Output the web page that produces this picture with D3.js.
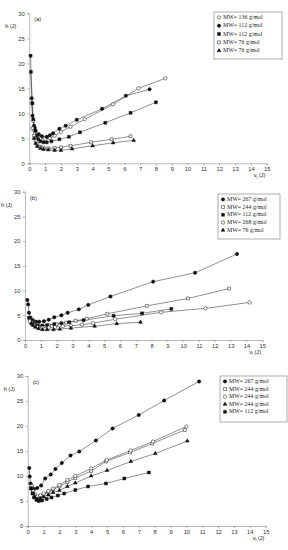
<!DOCTYPE html>
<html lang="en">
<head>
<meta charset="UTF-8">
<title>h vs vl</title>
<script src="https://d3js.org/d3.v7.min.js"></script>
<style>
    body { margin: 0; padding: 0; background: #fff; }
    svg { display: block; }
    .tick text { font-family: "Liberation Sans", Arial, sans-serif; font-size: 5.8px; fill: #333; }
    .legend text { font-family: "Liberation Serif", "Times New Roman", serif; font-size: 5.9px; fill: #222; }
    .lab { font-family: "Liberation Sans", Arial, sans-serif; font-size: 5.6px; fill: #222; }
</style>
</head>
<body>
<svg id="chart" width="288" height="550"></svg>
<script>
// ---------- data ----------
const xTicks = d3.range(0, 16, 1);
const yTicks = [0, 5, 10, 15, 20, 25, 30];

// panel (a)
const aOpenCircleX = [0.15, 0.25, 0.35, 0.5, 0.7, 1.0, 1.3, 1.6, 2.0, 2.6, 3.5, 5.3, 6.9, 8.6];
const aOpenCircleY = [12, 8.5, 6.5, 5.5, 5.0, 4.8, 5.0, 5.5, 6.3, 7.3, 8.8, 11.8, 15.0, 17.0];
const aFillCircleX = [0.08, 0.15, 0.2, 0.3, 0.4, 0.6, 0.8, 1.1, 1.3, 1.5, 1.9, 2.3, 3.0, 4.6, 6.1, 7.6];
const aFillCircleY = [21.5, 13, 9.5, 7.5, 6.5, 5.8, 5.4, 5.3, 5.6, 6.0, 6.9, 7.5, 8.7, 10.9, 13.5, 14.8];
const aFillSquareX = [0.1, 0.2, 0.25, 0.35, 0.45, 0.55, 0.7, 0.9, 1.1, 1.4, 1.9, 2.5, 3.2, 4.8, 6.4, 8.0];
const aFillSquareY = [18.3, 12, 8.8, 7.0, 5.5, 4.8, 4.4, 4.2, 4.2, 4.4, 4.8, 5.3, 6.2, 8.1, 10.1, 12.2];
const aOpenSquareX = [0.2, 0.3, 0.4, 0.5, 0.7, 0.9, 1.2, 1.6, 2.0, 2.6, 3.9, 5.2, 6.4];
const aOpenSquareY = [7.0, 5.5, 4.5, 3.8, 3.3, 3.1, 3.0, 3.1, 3.2, 3.5, 4.2, 4.8, 5.4];
const aTriangleX = [0.3, 0.4, 0.5, 0.7, 0.9, 1.2, 1.6, 2.0, 2.7, 4.0, 5.3, 6.6];
const aTriangleY = [5.0, 4.0, 3.4, 3.0, 2.8, 2.7, 2.6, 2.6, 2.9, 3.5, 4.1, 4.6];

// panel (b)
const bFillCircleX = [0.15, 0.2, 0.25, 0.35, 0.5, 0.7, 0.9, 1.2, 1.5, 1.85, 2.3, 2.7, 3.4, 4.0, 5.4, 8.1, 10.75, 13.4];
const bFillCircleY = [8.1, 7.2, 5.5, 4.5, 4.0, 3.7, 3.7, 3.8, 4.1, 4.6, 5.0, 5.5, 6.2, 7.1, 8.8, 11.8, 13.6, 17.4];
const bOpenSquareX = [0.3, 0.45, 0.6, 0.8, 1.1, 1.5, 2.0, 2.6, 3.2, 3.9, 5.2, 7.7, 10.3, 12.9];
const bOpenSquareY = [4.2, 3.6, 3.2, 3.0, 2.9, 3.0, 3.2, 3.5, 3.9, 4.3, 5.3, 6.9, 8.4, 10.4];
const bFillSquareX = [0.25, 0.35, 0.45, 0.6, 0.8, 1.1, 1.4, 1.85, 2.3, 2.8, 3.7, 5.6, 7.4, 9.25];
const bFillSquareY = [4.5, 3.8, 3.4, 3.0, 2.9, 2.9, 3.0, 3.2, 3.4, 3.6, 4.0, 4.9, 5.4, 6.3];
const bOpenCircleX = [0.3, 0.45, 0.6, 0.8, 1.1, 1.5, 1.9, 2.4, 2.9, 3.6, 4.3, 5.7, 8.6, 11.4, 14.2];
const bOpenCircleY = [3.8, 3.2, 2.9, 2.6, 2.5, 2.5, 2.6, 2.8, 2.9, 3.1, 3.4, 4.2, 5.6, 6.4, 7.6];
const bTriangleX = [0.4, 0.5, 0.65, 0.85, 1.1, 1.4, 1.8, 2.2, 2.9, 4.4, 5.8, 7.3];
const bTriangleY = [3.3, 3.0, 2.6, 2.3, 2.1, 2.1, 2.1, 2.2, 2.4, 2.8, 3.3, 3.6];

// panel (c)
const cFillCircleX = [0.1, 0.13, 0.18, 0.25, 0.4, 0.6, 0.85, 1.1, 1.45, 1.75, 2.15, 2.7, 3.25, 4.3, 5.35, 7.0, 8.6, 10.8];
const cFillCircleY = [11.6, 9.9, 8.5, 7.9, 7.4, 7.6, 8.1, 9.5, 10.3, 11.4, 12.6, 14.1, 14.9, 17.1, 19.5, 22.2, 25.1, 28.9];
const cOpenSquareX = [0.25, 0.35, 0.45, 0.6, 0.8, 1.0, 1.3, 1.6, 2.0, 2.5, 3.0, 4.0, 4.93, 6.45, 7.85, 9.9];
const cOpenSquareY = [7.5, 6.7, 6.0, 5.7, 6.0, 6.3, 6.8, 7.3, 7.9, 8.8, 9.6, 11.0, 12.9, 14.7, 16.5, 19.2];
const cOpenCircleX = [0.25, 0.35, 0.45, 0.6, 0.8, 1.0, 1.3, 1.6, 2.0, 2.5, 3.0, 4.0, 4.98, 6.49, 7.9, 10.0];
const cOpenCircleY = [8.0, 7.0, 6.3, 5.9, 6.1, 6.5, 7.0, 7.5, 8.2, 9.2, 10.0, 11.5, 13.2, 15.1, 16.9, 19.9];
const cTriangleX = [0.25, 0.35, 0.45, 0.6, 0.8, 1.0, 1.3, 1.6, 2.0, 2.5, 3.0, 4.0, 5.0, 6.5, 8.04, 10.06];
const cTriangleY = [7.5, 6.5, 5.8, 5.4, 5.5, 5.8, 6.2, 6.7, 7.1, 7.9, 8.6, 10.0, 11.1, 12.9, 14.5, 17.0];
const cFillSquareX = [0.2, 0.3, 0.4, 0.55, 0.7, 0.9, 1.2, 1.5, 1.9, 2.3, 3.0, 3.8, 4.93, 6.09, 7.64];
const cFillSquareY = [7.5, 6.5, 5.7, 5.2, 5.0, 5.1, 5.4, 5.7, 6.1, 6.5, 7.2, 7.9, 8.5, 9.5, 10.7];

const legendA = ["MW= 136 g/mol", "MW= 112 g/mol", "MW= 112 g/mol", "MW= 76 g/mol", "MW= 76 g/mol"];
const legendB = ["MW= 267 g/mol", "MW= 244 g/mol", "MW= 112 g/mol", "MW= 268 g/mol", "MW= 76 g/mol"];
const legendC = ["MW= 267 g/mol", "MW= 244 g/mol", "MW= 244 g/mol", "MW= 244 g/mol", "MW= 112 g/mol"];

// ---------- drawing ----------
const svg = d3.select("#chart");

function zipXY(xs, ys) {
    return xs.map((x, i) => [x, ys[i]]);
}

function marker(g, kind, x, y) {
    const filled = kind.startsWith("fill");
    let type = d3.symbolCircle, size = 9;
    if (kind.endsWith("Square")) { type = d3.symbolSquare; size = 8.5; }
    if (kind === "triangle") { type = d3.symbolTriangle; size = 6; }
    g.append("path")
        .attr("d", d3.symbol().type(type).size(size)())
        .attr("transform", `translate(${x},${y})`)
        .attr("fill", (filled || kind === "triangle") ? "#111" : "#fff")
        .attr("stroke", "#111")
        .attr("stroke-width", 0.5);
}

function drawPanel(p) {
    const x = d3.scaleLinear().domain([0, 15]).range([p.left, p.right]);
    const y = d3.scaleLinear().domain([0, 30]).range([p.bottom, p.top]);
    const g = svg.append("g");

    // axes
    g.append("g")
        .attr("transform", `translate(0,${p.bottom})`)
        .call(d3.axisBottom(x).tickValues(xTicks).tickSize(2).tickPadding(2).tickFormat(d3.format("d")))
        .call(a => a.select(".domain").attr("stroke", "#888").attr("stroke-width", 0.6))
        .call(a => a.selectAll(".tick line").attr("stroke", "#888").attr("stroke-width", 0.6));
    g.append("g")
        .attr("transform", `translate(${p.left},0)`)
        .call(d3.axisLeft(y).tickValues(yTicks).tickSize(2).tickPadding(2.5))
        .call(a => a.select(".domain").attr("stroke", "#888").attr("stroke-width", 0.6))
        .call(a => a.selectAll(".tick line").attr("stroke", "#888").attr("stroke-width", 0.6));

    // labels
    g.append("text").attr("class", "lab").attr("x", p.left - 24).attr("y", p.top + 15).text("h (J)");
    const xl = g.append("text").attr("class", "lab").attr("x", p.right - 13).attr("y", p.bottom + 14);
    xl.append("tspan").text("v");
    xl.append("tspan").attr("font-size", "3.8px").attr("dy", 1.2).text("l");
    xl.append("tspan").attr("dy", -1.2).text(" (J)");
    g.append("text").attr("class", "lab").attr("x", p.left + 5).attr("y", p.top + 8).text(p.tag);

    const line = d3.line().x(d => x(d[0])).y(d => y(d[1]));
    p.series.forEach(s => {
        const pts = zipXY(s.xs, s.ys);
        g.append("path").datum(pts)
            .attr("d", line)
            .attr("fill", "none")
            .attr("stroke", "#333")
            .attr("stroke-width", 0.55);
    });
    p.series.forEach(s => {
        zipXY(s.xs, s.ys).forEach(d => marker(g, s.kind, x(d[0]), y(d[1])));
    });

    // legend
    const lg = g.append("g").attr("class", "legend");
    lg.append("rect")
        .attr("x", p.lx).attr("y", p.ly).attr("width", p.lw).attr("height", p.lh)
        .attr("fill", "#fff").attr("stroke", "#777").attr("stroke-width", 0.6);
    p.series.forEach((s, i) => {
        const yy = p.ly + 7 + i * p.lstep;
        marker(lg, s.kind, p.lx + 5, yy - 1.6);
        lg.append("text").attr("x", p.lx + 9).attr("y", yy).text(p.legend[i]);
    });
}

drawPanel({
    tag: "(a)", left: 29.3, right: 266.7, top: 13.3, bottom: 163.3,
    lx: 214, ly: 12, lw: 68, lh: 47, lstep: 8.3, legend: legendA,
    series: [
        { kind: "openCircle", xs: aOpenCircleX, ys: aOpenCircleY },
        { kind: "fillCircle", xs: aFillCircleX, ys: aFillCircleY },
        { kind: "fillSquare", xs: aFillSquareX, ys: aFillSquareY },
        { kind: "openSquare", xs: aOpenSquareX, ys: aOpenSquareY },
        { kind: "triangle", xs: aTriangleX, ys: aTriangleY }
    ]
});
drawPanel({
    tag: "(b)", left: 25, right: 262.3, top: 191.7, bottom: 340,
    lx: 218, ly: 194, lw: 62, lh: 45, lstep: 7.7, legend: legendB,
    series: [
        { kind: "fillCircle", xs: bFillCircleX, ys: bFillCircleY },
        { kind: "openSquare", xs: bOpenSquareX, ys: bOpenSquareY },
        { kind: "fillSquare", xs: bFillSquareX, ys: bFillSquareY },
        { kind: "openCircle", xs: bOpenCircleX, ys: bOpenCircleY },
        { kind: "triangle", xs: bTriangleX, ys: bTriangleY }
    ]
});
drawPanel({
    tag: "(c)", left: 27.7, right: 265.7, top: 376, bottom: 526,
    lx: 220, ly: 376, lw: 67, lh: 46, lstep: 7.6, legend: legendC,
    series: [
        { kind: "fillCircle", xs: cFillCircleX, ys: cFillCircleY },
        { kind: "openSquare", xs: cOpenSquareX, ys: cOpenSquareY },
        { kind: "openCircle", xs: cOpenCircleX, ys: cOpenCircleY },
        { kind: "triangle", xs: cTriangleX, ys: cTriangleY },
        { kind: "fillSquare", xs: cFillSquareX, ys: cFillSquareY }
    ]
});
</script>
</body>
</html>
